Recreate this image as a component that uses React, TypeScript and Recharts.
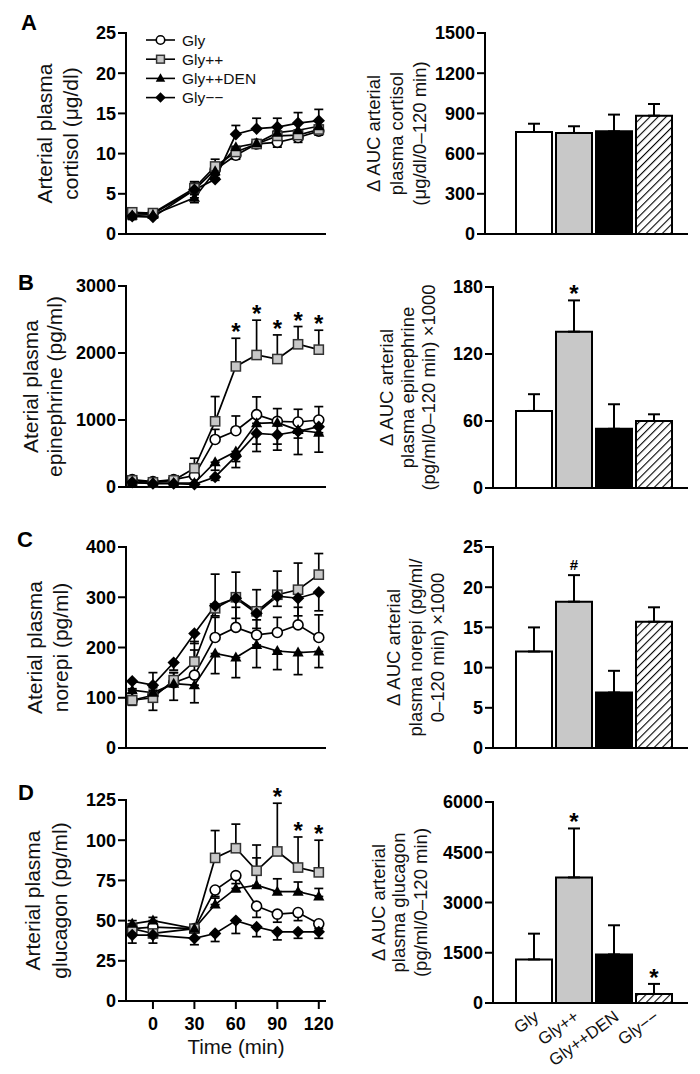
import React from 'react';
import {
  LineChart, Line, XAxis, YAxis, ErrorBar, ComposedChart, Bar, Cell, LabelList, Legend,
} from 'recharts';

const FONT = '"Liberation Sans", Arial, Helvetica, sans-serif';

// ---------- categories / series ----------
const groups = ['Gly', 'Gly++', 'Gly++DEN', 'Gly−−'];
const seriesKeys = ['gly', 'glyPP', 'den', 'glyMM'];
const markerKinds = ['circle', 'square', 'triangle', 'diamond'];

// ---------- time points ----------
const times9 = [-15, 0, 30, 45, 60, 75, 90, 105, 120];
const times10 = [-15, 0, 15, 30, 45, 60, 75, 90, 105, 120];
const timeTicks = [0, 30, 60, 90, 120];

// ---------- A: cortisol ----------
const cortGly = [2.5, 2.5, 5.5, 8.0, 9.8, 11.2, 11.4, 12.0, 12.8];
const cortGlyPP = [2.7, 2.6, 5.7, 8.4, 10.2, 11.2, 12.2, 12.3, 13.0];
const cortDen = [2.3, 2.4, 4.5, 7.8, 10.8, 11.3, 12.6, 12.9, 13.4];
const cortGlyMM = [2.2, 2.1, 5.5, 6.8, 12.4, 13.1, 13.3, 13.8, 14.1];
const cortGlyErr = [0.3, 0.3, 0.6, 0.7, 0.5, 0.5, 0.6, 0.6, 0.5];
const cortGlyPPErr = [0.4, 0.3, 0.8, 0.9, 0.7, 0.5, 0.6, 0.6, 0.5];
const cortDenErr = [0.5, 0.4, 0.6, 0.8, 0.8, 0.6, 0.6, 0.6, 0.6];
const cortGlyMMErr = [0.4, 0.3, 1.0, 0.7, 1.1, 1.3, 1.1, 1.3, 1.4];
const cortDirs = ['down', 'up', 'down', 'up'];

// ---------- B: epinephrine ----------
const epiGly = [110, 80, 110, 170, 710, 840, 1080, 980, 970, 1000];
const epiGlyPP = [100, 70, 100, 280, 980, 1800, 1970, 1910, 2130, 2050];
const epiDen = [60, 60, 60, 60, 370, 530, 950, 960, 850, 810];
const epiGlyMM = [70, 50, 50, 40, 150, 460, 800, 780, 830, 900];
const epiGlyErr = [30, 20, 30, 60, 150, 220, 265, 190, 190, 200];
const epiGlyPPErr = [30, 20, 30, 150, 370, 420, 520, 360, 265, 290];
const epiDenErr = [20, 20, 20, 20, 120, 240, 420, 410, 365, 290];
const epiGlyMMErr = [20, 15, 15, 10, 50, 80, 160, 140, 100, 120];
const epiDirs = ['up', 'up', 'down', 'down'];
const epiStars = [60, 75, 90, 105, 120];

// ---------- C: norepinephrine ----------
const neGly = [95, 105, 130, 145, 220, 240, 225, 230, 245, 220];
const neGlyPP = [95, 100, 135, 172, 278, 300, 272, 305, 315, 345];
const neDen = [115, 110, 128, 125, 188, 180, 205, 193, 190, 192];
const neGlyMM = [133, 125, 170, 228, 283, 298, 268, 302, 298, 310];
const neGlyErr = [15, 45, 20, 50, 40, 40, 30, 30, 35, 45];
const neGlyPPErr = [15, 20, 15, 40, 68, 50, 43, 47, 53, 42];
const neDenErr = [30, 35, 33, 35, 40, 40, 45, 37, 44, 32];
const neGlyMMErr = [15, 10, 15, 20, 20, 40, 30, 20, 35, 37];
const neDirs = ['up', 'up', 'down', 'down'];

// ---------- D: glucagon ----------
const gcgGly = [45, 46, 45, 69, 78, 59, 54, 55, 48];
const gcgGlyPP = [45, 42, 45, 89, 95, 81, 93, 83, 80];
const gcgDen = [48, 50, 45, 60, 70, 72, 68, 68, 65];
const gcgGlyMM = [41, 41, 39, 42, 50, 46, 43, 43, 43];
const gcgGlyErr = [3, 3, 2, 4, 10, 7, 5, 5, 3];
const gcgGlyPPErr = [3, 3, 2, 17, 15, 16, 30, 19, 20];
const gcgDenErr = [2, 2, 2, 4, 3, 17, 8, 6, 5];
const gcgGlyMMErr = [5, 5, 4, 5, 8, 6, 5, 4, 4];
const gcgDirs = ['down', 'up', 'up', 'down'];
const gcgStars = [90, 105, 120];

// ---------- AUC bars ----------
const aucCort = [761, 754, 766, 883];
const aucCortErr = [62, 50, 125, 87];
const aucCortSig = ['', '', '', ''];
const aucEpi = [69, 140, 53, 60];
const aucEpiErr = [15, 28, 22, 6];
const aucEpiSig = ['', '*', '', ''];
const aucNe = [12.0, 18.2, 6.9, 15.7];
const aucNeErr = [3.0, 3.3, 2.7, 1.8];
const aucNeSig = ['', '#', '', ''];
const aucGcg = [1300, 3750, 1450, 270];
const aucGcgErr = [770, 1460, 870, 300];
const aucGcgSig = ['', '*', '', '*'];

// ---------- axis ticks ----------
const ticksCort = [0, 5, 10, 15, 20, 25];
const ticksEpi = [0, 1000, 2000, 3000];
const ticksNe = [0, 100, 200, 300, 400];
const ticksGcg = [0, 25, 50, 75, 100, 125];
const ticksAucCort = [0, 300, 600, 900, 1200, 1500];
const ticksAucEpi = [0, 60, 120, 180];
const ticksAucNe = [0, 5, 10, 15, 20, 25];
const ticksAucGcg = [0, 1500, 3000, 4500, 6000];

const barFills = ['#ffffff', '#c8c8c8', '#000000', 'url(#hatch)'];

// ---------- helpers ----------
function buildRows(times: number[], vals: number[][], errs: number[][], dirs: string[], stars: number[] = []) {
  return times.map((t, i) => {
    const row: any = { t };
    seriesKeys.forEach((k, s) => {
      const e = errs[s][i];
      row[k] = vals[s][i];
      row[k + 'Err'] = dirs[s] === 'up' ? [0, e] : [e, 0];
    });
    row.star = stars.includes(t) ? vals[1][i] + errs[1][i] : null;
    return row;
  });
}

function buildBarRows(vals: number[], errs: number[], sig: string[]) {
  return groups.map((g, i) => ({
    name: g,
    value: vals[i],
    err: [0, errs[i]],
    star: sig[i] ? vals[i] + errs[i] : null,
    sym: sig[i],
  }));
}

const Marker = ({ kind, cx, cy, s = 1 }: any) => {
  if (cx == null || cy == null || isNaN(cx) || isNaN(cy)) return null;
  if (kind === 'circle') return <circle cx={cx} cy={cy} r={5 * s} fill="#fff" stroke="#000" strokeWidth={1.6} />;
  if (kind === 'square') return <rect x={cx - 4.6 * s} y={cy - 4.6 * s} width={9.2 * s} height={9.2 * s} fill="#c8c8c8" stroke="#333" strokeWidth={1.5} />;
  if (kind === 'triangle') return <polygon points={`${cx},${cy - 6 * s} ${cx + 5.6 * s},${cy + 4 * s} ${cx - 5.6 * s},${cy + 4 * s}`} fill="#000" />;
  return <polygon points={`${cx},${cy - 6.2 * s} ${cx + 6.2 * s},${cy} ${cx},${cy + 6.2 * s} ${cx - 6.2 * s},${cy}`} fill="#000" />;
};

const yTitle = (lines: string[], baselines: number[], fontSize: number) => (props: any) => {
  const vb = props.viewBox || {};
  const cy = vb.y + vb.height / 2;
  return (
    <g>
      {lines.map((t, i) => (
        <text key={i} transform={`translate(${baselines[i]},${cy}) rotate(-90)`} textAnchor="middle"
          fontSize={fontSize} fontFamily={FONT} fill="#111">{t}</text>
      ))}
    </g>
  );
};

const starLabel = (rows: any[]) => (props: any) => {
  const { x, y, value, index } = props;
  if (value == null || x == null) return null;
  const sym = rows[index] && rows[index].sym ? rows[index].sym : '*';
  return (
    <text x={x} y={sym === '#' ? y - 5 : y + 2} textAnchor="middle" fontSize={sym === '#' ? 15 : 24}
      fontWeight={700} fontFamily={FONT} fill="#000">{sym}</text>
  );
};

const axisLine = { stroke: '#000', strokeWidth: 2, strokeLinecap: 'square' as const };
const tickLine = { stroke: '#000', strokeWidth: 2 };
const tickFont = { fontSize: 18, fontWeight: 700, fill: '#000', fontFamily: FONT };

const PLOT_H = 201;
const MT = 20;

const LegendBox = () => (
  <svg width={160} height={90}>
    {seriesKeys.map((k, i) => {
      const y = 9 + i * 19.2;
      return (
        <g key={k}>
          <line x1={6} x2={35} y1={y} y2={y} stroke="#000" strokeWidth={1.6} />
          <Marker kind={markerKinds[i]} cx={20.5} cy={y} s={0.85} />
          <text x={42} y={y} dy="0.36em" fontSize={15.5} fontFamily={FONT} fill="#111">{groups[i]}</text>
        </g>
      );
    })}
  </svg>
);

function TimePanel({ top, height, rows, domainMax, ticks, title, baselines, showX, legend }: any) {
  return (
    <div style={{ position: 'absolute', left: 0, top }}>
      <LineChart width={350} height={height} data={rows} margin={{ top: MT, right: 25, bottom: 0, left: 0 }}>
        <XAxis type="number" dataKey="t" domain={[-19.5, 124.5]} ticks={timeTicks} interval={0}
          axisLine={axisLine} tickLine={tickLine} tickSize={8} tickMargin={8}
          tick={showX ? tickFont : false} height={height - MT - PLOT_H}
          label={showX ? ((p: any) => {
            const vb = p.viewBox || {};
            return <text x={vb.x + 110} y={vb.y + 53} textAnchor="middle" fontSize={20.5} fontFamily={FONT} fill="#111">Time (min)</text>;
          }) : undefined} />
        <YAxis type="number" domain={[0, domainMax]} ticks={ticks} interval={0} width={126}
          axisLine={axisLine} tickLine={tickLine} tickSize={8} tickMargin={2} tick={tickFont}
          label={yTitle(title, baselines, 21)} />
        {seriesKeys.map((k, i) => (
          <Line key={k} type="linear" dataKey={k} name={groups[i]} stroke="#000" strokeWidth={1.7}
            isAnimationActive={false} activeDot={false}
            dot={(p: any) => <Marker key={`${k}-${p.index}`} kind={markerKinds[i]} cx={p.cx} cy={p.cy} />}>
            <ErrorBar dataKey={k + 'Err'} width={4.5} stroke="#000" strokeWidth={1.7} direction="y" />
          </Line>
        ))}
        <Line dataKey="star" stroke="none" dot={false} activeDot={false} legendType="none" isAnimationActive={false}>
          <LabelList dataKey="star" content={starLabel(rows)} />
        </Line>
        {legend ? (
          <Legend layout="vertical" align="center" verticalAlign="middle" content={() => <LegendBox />}
            wrapperStyle={{ left: 140, top: 18, width: 160, height: 90 }} />
        ) : null}
      </LineChart>
    </div>
  );
}

const RotTick = (props: any) => {
  const { x, y, payload } = props;
  return (
    <text transform={`translate(${x + 6},${y + 8}) rotate(-36)`} textAnchor="end" fontSize={17}
      fontFamily={FONT} fill="#111">{payload.value}</text>
  );
};

function AucPanel({ top, height, rows, domainMax, ticks, title, baselines, axisW, showX }: any) {
  return (
    <div style={{ position: 'absolute', left: 350, top }}>
      <ComposedChart width={350} height={height} data={rows} margin={{ top: MT, right: 13, bottom: 0, left: 0 }}>
        <XAxis type="category" dataKey="name" axisLine={axisLine} tickLine={false}
          padding={{ left: axisW === 135 ? 29 : 21, right: 13 }} interval={0}
          tick={showX ? <RotTick /> : false} height={height - MT - PLOT_H} />
        <YAxis type="number" domain={[0, domainMax]} ticks={ticks} interval={0} width={axisW}
          axisLine={axisLine} tickLine={tickLine} tickSize={8} tickMargin={2} tick={tickFont}
          label={yTitle(title, baselines, 18.5)} />
        <Bar dataKey="value" barSize={36} stroke="#000" strokeWidth={2} isAnimationActive={false}>
          {rows.map((r: any, i: number) => <Cell key={r.name} fill={barFills[i]} />)}
          <ErrorBar dataKey="err" width={6} stroke="#000" strokeWidth={2} direction="y" />
        </Bar>
        <Line dataKey="star" stroke="none" dot={false} activeDot={false} legendType="none" isAnimationActive={false}>
          <LabelList dataKey="star" content={starLabel(rows)} />
        </Line>
      </ComposedChart>
    </div>
  );
}

const rowsA = buildRows(times9, [cortGly, cortGlyPP, cortDen, cortGlyMM], [cortGlyErr, cortGlyPPErr, cortDenErr, cortGlyMMErr], cortDirs);
const rowsB = buildRows(times10, [epiGly, epiGlyPP, epiDen, epiGlyMM], [epiGlyErr, epiGlyPPErr, epiDenErr, epiGlyMMErr], epiDirs, epiStars);
const rowsC = buildRows(times10, [neGly, neGlyPP, neDen, neGlyMM], [neGlyErr, neGlyPPErr, neDenErr, neGlyMMErr], neDirs);
const rowsD = buildRows(times9, [gcgGly, gcgGlyPP, gcgDen, gcgGlyMM], [gcgGlyErr, gcgGlyPPErr, gcgDenErr, gcgGlyMMErr], gcgDirs, gcgStars);

const barsA = buildBarRows(aucCort, aucCortErr, aucCortSig);
const barsB = buildBarRows(aucEpi, aucEpiErr, aucEpiSig);
const barsC = buildBarRows(aucNe, aucNeErr, aucNeSig);
const barsD = buildBarRows(aucGcg, aucGcgErr, aucGcgSig);

const panelLetters = [
  { t: 'A', x: 21, y: 30 },
  { t: 'B', x: 18, y: 290 },
  { t: 'C', x: 17, y: 547 },
  { t: 'D', x: 18, y: 800 },
];

export default function App() {
  return (
    <div style={{ position: 'absolute', left: 0, top: 0, width: 700, height: 1074, background: '#fff', overflow: 'hidden' }}>
      <svg width={0} height={0} style={{ position: 'absolute' }}>
        <defs>
          <pattern id="hatch" patternUnits="userSpaceOnUse" width={5.7} height={5.7} patternTransform="rotate(45)">
            <rect x={0} y={0} width={5.7} height={5.7} fill="#fff" />
            <line x1={0} y1={0} x2={0} y2={5.7} stroke="#000" strokeWidth={2.2} />
          </pattern>
        </defs>
      </svg>

      <TimePanel top={13} height={260} rows={rowsA} domainMax={25} ticks={ticksCort}
        title={['Arterial plasma', 'cortisol (μg/dl)']} baselines={[52, 78]} legend />
      <TimePanel top={266} height={260} rows={rowsB} domainMax={3000} ticks={ticksEpi}
        title={['Aterial plasma', 'epinephrine (pg/ml)']} baselines={[38, 62]} />
      <TimePanel top={527} height={260} rows={rowsC} domainMax={400} ticks={ticksNe}
        title={['Aterial plasma', 'norepi (pg/ml)']} baselines={[42, 68]} />
      <TimePanel top={780} height={290} rows={rowsD} domainMax={125} ticks={ticksGcg}
        title={['Arterial plasma', 'glucagon (pg/ml)']} baselines={[40, 67]} showX />

      <AucPanel top={13} height={260} rows={barsA} domainMax={1500} ticks={ticksAucCort} axisW={135}
        title={['Δ AUC arterial', 'plasma cortisol', '(μg/dl/0–120 min)']} baselines={[30, 53, 76]} />
      <AucPanel top={267} height={260} rows={barsB} domainMax={180} ticks={ticksAucEpi} axisW={143}
        title={['Δ AUC arterial', 'plasma epinephrine', '(pg/ml/0–120 min) ×1000']} baselines={[43, 64, 85]} />
      <AucPanel top={527} height={260} rows={barsC} domainMax={25} ticks={ticksAucNe} axisW={143}
        title={['Δ AUC arterial', 'plasma norepi (pg/ml/', '0–120 min) ×1000']} baselines={[50, 72, 94]} />
      <AucPanel top={782} height={290} rows={barsD} domainMax={6000} ticks={ticksAucGcg} axisW={143}
        title={['Δ AUC arterial', 'plasma glucagon', '(pg/ml/0–120 min)']} baselines={[35, 55, 77]} showX />

      <svg width={700} height={1074} style={{ position: 'absolute', left: 0, top: 0, pointerEvents: 'none' }}>
        {panelLetters.map((p) => (
          <text key={p.t} x={p.x} y={p.y} fontSize={22} fontWeight={700} fontFamily={FONT} fill="#000">{p.t}</text>
        ))}
      </svg>
    </div>
  );
}
